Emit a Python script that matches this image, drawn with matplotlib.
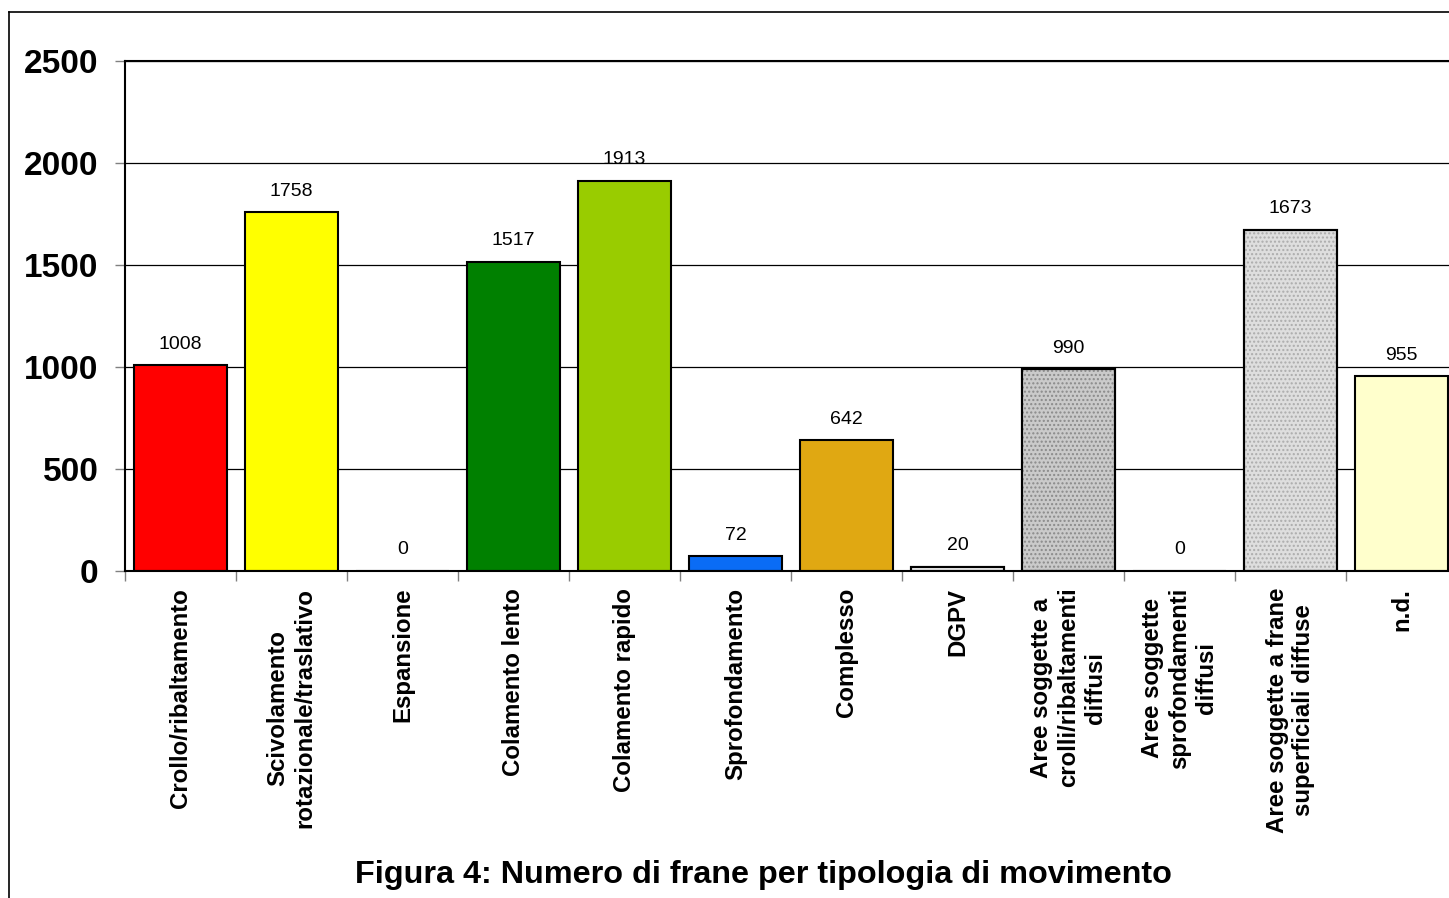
import numpy as np
import matplotlib.pyplot as plt
from matplotlib.lines import Line2D

plt.rcParams['font.family'] = ['Liberation Sans', 'DejaVu Sans']

categorie = ["Crollo/ribaltamento", "Scivolamento\nrotazionale/traslativo", "Espansione",
             "Colamento lento", "Colamento rapido", "Sprofondamento", "Complesso", "DGPV",
             "Aree soggette a\ncrolli/ribaltamenti\ndiffusi", "Aree soggette\nsprofondamenti\ndiffusi",
             "Aree soggette a frane\nsuperficiali diffuse", "n.d."]
valori = [1008, 1758, 0, 1517, 1913, 72, 642, 20, 990, 0, 1673, 955]
colori = ["#ff0000", "#ffff00", "#ffffff", "#008000", "#99cc00", "#0a6cf5", "#e0a812",
          "#f4f4f4", "#cacaca", "#cacaca", "#dedede", "#ffffcc"]
tratteggi = [None, None, None, None, None, None, None, "--", "....", "....", "....", None]
colori_tratteggio = [None, None, None, None, None, None, None, "#909090", "#8a8a8a", "#8a8a8a", "#acacac", None]
titolo = "Figura 4: Numero di frane per tipologia di movimento"

fig = plt.figure(figsize=(14.49, 8.98), dpi=100)
ax = fig.add_axes([125/1449, 1-571/898, 1332/1449, 510/898])

x = np.arange(len(categorie))
ax.set_axisbelow(True)
ax.yaxis.grid(True, color="black", linewidth=0.9)
ax.bar(x, valori, width=0.84, color=colori, edgecolor="black", linewidth=1.5, zorder=2)
for i in range(len(x)):
    if tratteggi[i] and valori[i] > 0:
        ax.bar(x[i], valori[i], width=0.84, color="none", edgecolor=colori_tratteggio[i],
               hatch=tratteggi[i], linewidth=0, zorder=3)
        ax.bar(x[i], valori[i], width=0.84, color="none", edgecolor="black", linewidth=1.5, zorder=4)

for i in range(len(x)):
    ax.annotate(str(valori[i]), (x[i], valori[i]), xytext=(0, 9), textcoords="offset points",
                ha="center", va="bottom", fontsize=14)

ax.set_xlim(-0.5, len(x) - 0.5)
ax.set_ylim(0, 2500)
ax.set_yticks([0, 500, 1000, 1500, 2000, 2500])
ax.tick_params(axis="y", direction="out", length=7, width=1, color="#808080", pad=12,
               labelsize=24)
for t in ax.get_yticklabels():
    t.set_fontweight("bold")

ax.set_xticks(x)
ax.set_xticklabels(categorie, rotation=90, ha="center", va="top", multialignment="center",
                   fontsize=17.3, fontweight="bold")
ax.set_xticks(np.arange(-0.5, len(x)), minor=True)
ax.tick_params(axis="x", which="major", length=0, pad=12)
ax.tick_params(axis="x", which="minor", direction="out", length=7, width=1, color="#808080")

for s in ["left", "bottom", "top"]:
    ax.spines[s].set_linewidth(1.5)
    ax.spines[s].set_color("black")
ax.spines["right"].set_visible(False)

# cornice della figura
fig.add_artist(Line2D([9/1449, 9/1449], [0, 1-12/898], color="black", linewidth=1.2))
fig.add_artist(Line2D([9/1449, 1], [1-12/898, 1-12/898], color="black", linewidth=1.2))

fig.text(763/1449, 1-875/898, titolo, ha="center", va="center", fontsize=23.3, fontweight="bold")

fig.savefig("out.png", dpi=100)
